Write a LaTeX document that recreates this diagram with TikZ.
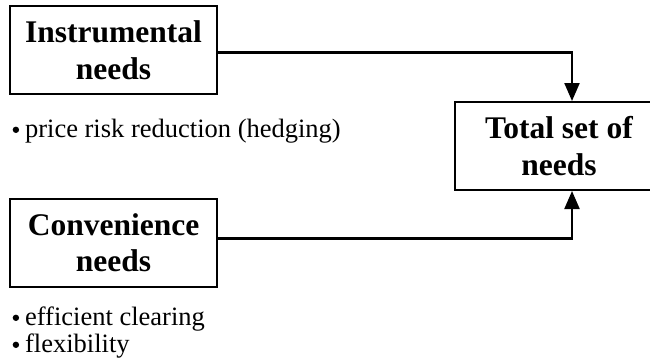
\documentclass[tikz,border=0pt]{standalone}
\usepackage{fontspec}
\setmainfont{Liberation Serif}
\usetikzlibrary{arrows.meta}
\tikzset{
  needbox/.style={draw=black, line width=2pt, minimum width=207pt, minimum height=88pt,
    inner sep=0pt, align=center, font=\fontsize{31.5}{36.5}\selectfont\bfseries},
  itemtext/.style={anchor=base west, inner sep=0pt, font=\fontsize{26.5}{27}\selectfont},
  link/.style={line width=2.2pt, -{Triangle[length=18pt,width=15pt]}}
}
\newcommand{\bul}{\raisebox{4pt}{\tikz\fill (0,0) circle (3.2pt);}\hspace{6pt}}
\begin{document}
\begin{tikzpicture}[x=1pt,y=-1pt]
\useasboundingbox (0,0) rectangle (650,360);
\begin{scope}
\clip (0,0) rectangle (650,360);
\node[needbox] (instr) at (113.5,50) {Instrumental\\needs};
\node[needbox] (conv) at (113.5,242.5) {Convenience\\needs};
\node[needbox, minimum width=208pt] (total) at (559,146) {Total set of\\needs};
\coordinate (c1) at (572,52.5);
\coordinate (c2) at (572,238.5);
\draw[link] (instr.east |- c1) -- (c1) -- (c1 |- total.north);
\draw[link] (conv.east |- c2) -- (c2) -- (c2 |- total.south);
\node[itemtext] (i1) at (12.5,137) {\bul price risk reduction (hedging)};
\node[itemtext] (i2) at (12.5,325) {\bul efficient clearing};
\node[itemtext] (i3) at (12.5,352) {\bul flexibility};
\end{scope}
\end{tikzpicture}
\end{document}
